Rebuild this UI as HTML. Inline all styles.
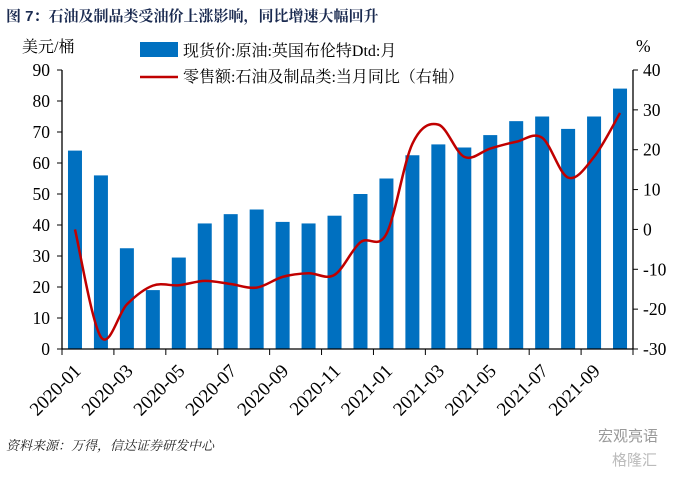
<!DOCTYPE html>
<html><head><meta charset="utf-8"><style>
body{margin:0;background:#fff;}
svg{display:block;}
.t{font-family:"Liberation Serif","Noto Serif CJK SC",serif;font-size:17.5px;fill:#000;}
.x{font-family:"Liberation Serif","Noto Serif CJK SC",serif;font-size:19px;fill:#000;}
.c{font-family:"Liberation Serif","Noto Serif CJK SC",serif;font-size:16px;fill:#000;}
</style></head><body>
<svg id="chart" width="689" height="483" viewBox="0 0 689 483">
<text x="6" y="21" style="font-family:'Liberation Sans','Noto Serif CJK SC',serif;font-weight:bold;font-size:15px;fill:#1a2a50;">图  7：石油及制品类受油价上涨影响，同比增速大幅回升</text>
<text x="22" y="52" class="c">美元/桶</text>
<text x="636" y="52" class="t">%</text>
<rect x="140" y="42" width="38" height="15" fill="#0070c0"/>
<text x="183" y="56" class="c">现货价:原油:英国布伦特Dtd:月</text>
<line x1="140" y1="77" x2="178" y2="77" stroke="#c00000" stroke-width="2.5"/>
<text x="183" y="82" class="c">零售额:石油及制品类:当月同比（右轴）</text>
<g id="plot"></g>
<text x="6" y="450" style="font-family:'Liberation Serif','Noto Serif CJK SC',serif;font-style:italic;font-size:13px;fill:#222;">资料来源：万得，信达证券研发中心</text>
<text x="598" y="441" style="font-family:'Liberation Sans','Noto Sans CJK SC',sans-serif;font-size:15px;fill:#999;">宏观亮语</text>
<text x="612" y="465" style="font-family:'Liberation Sans','Noto Sans CJK SC',sans-serif;font-size:15px;fill:#bbb;">格隆汇</text>
</svg>
<script>
const categories=["2020-01","2020-02","2020-03","2020-04","2020-05","2020-06","2020-07","2020-08","2020-09","2020-10","2020-11","2020-12","2021-01","2021-02","2021-03","2021-04","2021-05","2021-06","2021-07","2021-08","2021-09","2021-10"];
const brentPrice=[64,56,32.5,19,29.5,40.5,43.5,45,41,40.5,43,50,55,62.5,66,65,69,73.5,75,71,75,84];
const retailYoY=[0,-27,-18.8,-14.1,-14,-12.9,-13.7,-14.6,-11.9,-11,-11.4,-3.2,-1.1,21.5,26.3,18.2,20.3,22,23,13,18.2,29.2];
const leftTicks=[0,10,20,30,40,50,60,70,80,90];
const rightTicks=[-30,-20,-10,0,10,20,30,40];
const NS="http://www.w3.org/2000/svg";
const g=document.getElementById('plot');
const X0=62,X1=633,Y0=349,Y1=70;
const n=categories.length,step=(X1-X0)/n;
const xc=i=>X0+step*(i+0.5);
const yL=v=>Y0-(v-0)/90*(Y0-Y1);
const yR=v=>Y0-(v+30)/70*(Y0-Y1);
function el(t,a){const e=document.createElementNS(NS,t);for(const k in a)e.setAttribute(k,a[k]);g.appendChild(e);return e;}
brentPrice.forEach((v,i)=>{const r=el('rect',{x:xc(i)-7,y:yL(v),width:14,height:Y0-yL(v),fill:'#0070c0'});

});
let a=el('line',{x1:X0,y1:Y1,x2:X0,y2:Y0,stroke:'#000','stroke-width':1.3});

a=el('line',{x1:X1,y1:Y1,x2:X1,y2:Y0,stroke:'#000','stroke-width':1.3});

a=el('line',{x1:X0,y1:Y0,x2:X1,y2:Y0,stroke:'#000','stroke-width':1.3});

leftTicks.forEach(v=>{el('line',{x1:X0-5,y1:yL(v),x2:X0,y2:yL(v),stroke:'#000'});
const t=el('text',{x:X0-12,y:yL(v)+6,'text-anchor':'end',class:'t'});t.textContent=v;

});
rightTicks.forEach(v=>{el('line',{x1:X1,y1:yR(v),x2:X1+5,y2:yR(v),stroke:'#000'});
const t=el('text',{x:X1+10,y:yR(v)+6,'text-anchor':'start',class:'t'});t.textContent=v;

});
for(let i=0;i<=n;i+=2){el('line',{x1:X0+step*i,y1:Y0,x2:X0+step*i,y2:Y0+6,stroke:'#000'});}
el('line',{x1:X1,y1:Y0,x2:X1,y2:Y0+6,stroke:'#000'});
categories.forEach((c,i)=>{if(i%2)return;const x=X0+step*i+20,y=372;
const t=el('text',{x:x,y:y,'text-anchor':'end',class:'x',transform:`rotate(-45 ${x} ${y})`});t.textContent=c;

});
const pts=retailYoY.map((v,i)=>[xc(i),yR(v)]);
let d=`M${pts[0][0]},${pts[0][1]}`;
for(let i=0;i<pts.length-1;i++){const p0=pts[i-1]||pts[i],p1=pts[i],p2=pts[i+1],p3=pts[i+2]||p2;
d+=` C${p1[0]+(p2[0]-p0[0])/6},${p1[1]+(p2[1]-p0[1])/6} ${p2[0]-(p3[0]-p1[0])/6},${p2[1]-(p3[1]-p1[1])/6} ${p2[0]},${p2[1]}`;}
const ln=el('path',{d:d,fill:'none',stroke:'#c00000','stroke-width':2.5});


</script>
</body></html>
